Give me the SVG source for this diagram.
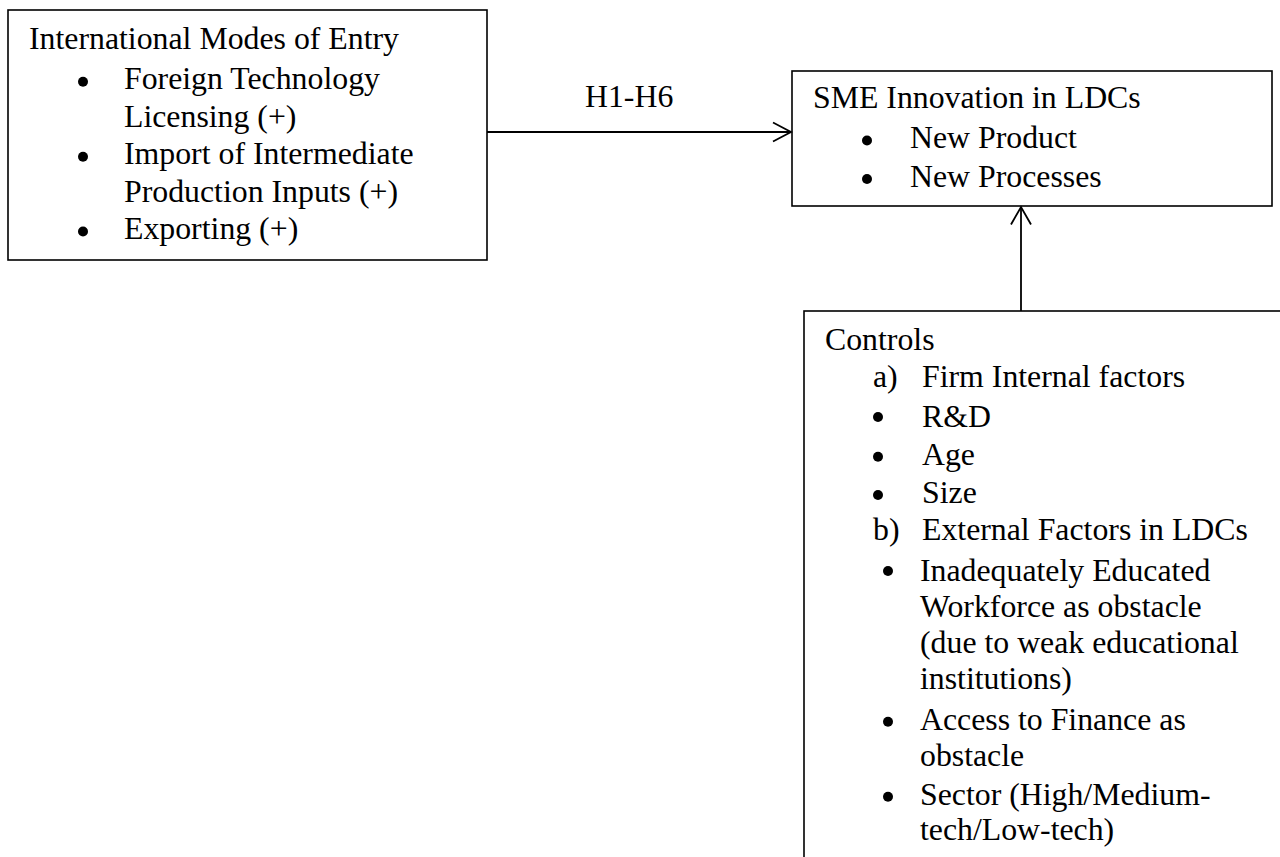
<svg xmlns="http://www.w3.org/2000/svg" width="1280" height="857" viewBox="0 0 1280 857">
<style>
text{font-family:"Liberation Serif","Times New Roman",serif;font-size:31.8px;fill:#000}
.box{fill:#fff;stroke:#000;stroke-width:1.6}
.con{fill:none;stroke:#000;stroke-width:1.8}
.dot{fill:#000}
</style>
<rect width="1280" height="857" fill="#fff"/>
<g id="entry">
<rect class="box" x="8" y="10" width="479" height="250"/>
<text x="29" y="49">International Modes of Entry</text>
<circle class="dot" cx="83" cy="81.7" r="5"/>
<text x="124" y="89">Foreign Technology</text>
<text x="124" y="127">Licensing (+)</text>
<circle class="dot" cx="83" cy="156.7" r="5"/>
<text x="124" y="164">Import of Intermediate</text>
<text x="124" y="202">Production Inputs (+)</text>
<circle class="dot" cx="83" cy="231.5" r="5"/>
<text x="124" y="239">Exporting (+)</text>
</g>
<g id="innovation">
<rect class="box" x="792" y="71" width="480" height="135"/>
<text x="813" y="108">SME Innovation in LDCs</text>
<circle class="dot" cx="867" cy="140.5" r="5"/>
<text x="910" y="148">New Product</text>
<circle class="dot" cx="867" cy="179" r="5"/>
<text x="910" y="186.5">New Processes</text>
</g>
<g id="controls">
<rect class="box" x="804" y="311" width="600" height="600"/>
<text x="825" y="350">Controls</text>
<text x="873" y="387">a)</text>
<text x="922" y="387">Firm Internal factors</text>
<circle class="dot" cx="878" cy="417" r="5"/>
<text x="922" y="427">R&amp;D</text>
<circle class="dot" cx="878" cy="456.7" r="5"/>
<text x="922" y="465">Age</text>
<circle class="dot" cx="878" cy="495" r="5"/>
<text x="922" y="503">Size</text>
<text x="873" y="540">b)</text>
<text x="922" y="540">External Factors in LDCs</text>
<circle class="dot" cx="888" cy="571" r="5"/>
<text x="920" y="580.5">Inadequately Educated</text>
<text x="920" y="616.7">Workforce as obstacle</text>
<text x="920" y="653.3">(due to weak educational</text>
<text x="920" y="689.3">institutions)</text>
<circle class="dot" cx="888" cy="721.7" r="5"/>
<text x="920" y="730">Access to Finance as</text>
<text x="920" y="765.5">obstacle</text>
<circle class="dot" cx="888" cy="796.7" r="5"/>
<text x="920" y="805">Sector (High/Medium-</text>
<text x="920" y="840">tech/Low-tech)</text>
</g>
<g id="connectors">
<line class="con" x1="487" y1="132" x2="791" y2="132"/>
<polyline class="con" points="773,122.5 791,132 773,141.5"/>
<text x="585" y="107">H1-H6</text>
<line class="con" x1="1021" y1="311" x2="1021" y2="207"/>
<polyline class="con" points="1011,224.5 1021,207 1031,224.5"/>
</g>
</svg>
